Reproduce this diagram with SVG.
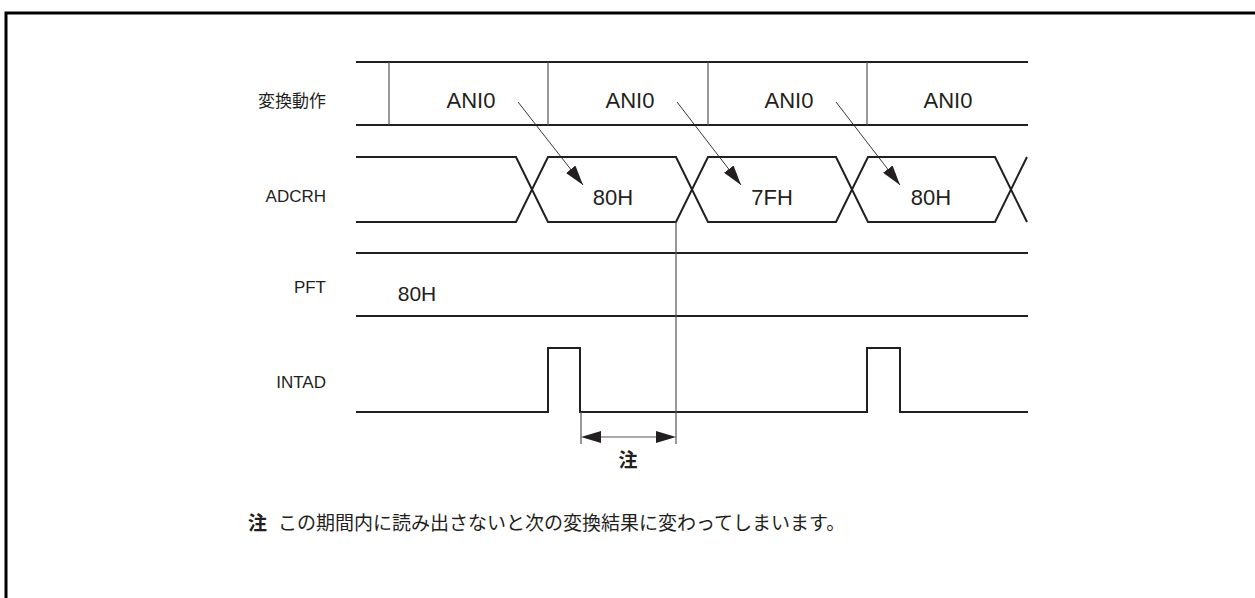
<svg xmlns="http://www.w3.org/2000/svg" width="1255" height="598" viewBox="0 0 1255 598">
<style>
.sig{fill:none;stroke:#231f20;stroke-width:2;stroke-linejoin:miter}
.thin{fill:none;stroke:#555;stroke-width:1.2}
.arr{fill:none;stroke:#231f20;stroke-width:0.9}
.lbl{font-family:"Liberation Sans","Noto Sans CJK JP",sans-serif;font-size:17px;fill:#231f20;text-anchor:end}
.val{font-family:"Liberation Sans",sans-serif;font-size:22px;fill:#231f20;text-anchor:middle}
.jp{font-family:"Noto Sans CJK JP",sans-serif;font-size:19px;fill:#231f20}
</style>
<defs>
<marker id="ah" markerWidth="20" markerHeight="12" refX="20" refY="6" orient="auto" markerUnits="userSpaceOnUse">
<path d="M0,0 L20,6 L0,12 Z" fill="#231f20"/>
</marker>
</defs>
<rect width="1255" height="598" fill="#fff"/>
<g id="frame">
<path d="M6,598 V13 H1255" fill="none" stroke="#000" stroke-width="3"/>
</g>
<g id="labels">
<text class="lbl" x="326" y="107">変換動作</text>
<text class="lbl" x="326" y="202">ADCRH</text>
<text class="lbl" x="326" y="293">PFT</text>
<text class="lbl" x="326" y="388">INTAD</text>
</g>
<g id="conv">
<path class="sig" d="M356,62 H1028 M356,125 H1028"/>
<path class="thin" d="M389,62 V125 M548,62 V125 M708,62 V125 M867,62 V125"/>
<text class="val" x="471" y="108">ANI0</text>
<text class="val" x="630" y="108">ANI0</text>
<text class="val" x="789" y="108">ANI0</text>
<text class="val" x="948" y="108">ANI0</text>
</g>
<g id="adcrh">
<path class="sig" d="M356,157 H516 L548,222 H676 L708,157 H836 L868,222 H995 L1027,157"/>
<path class="sig" d="M356,222 H516 L548,157 H676 L708,222 H836 L868,157 H995 L1027,222"/>
<text class="val" x="613" y="205">80H</text>
<text class="val" x="772" y="205">7FH</text>
<text class="val" x="931" y="205">80H</text>
</g>
<g id="pft">
<path class="sig" d="M356,253 H1028 M356,316 H1028"/>
<text class="val" x="417" y="301" style="font-size:21px">80H</text>
</g>
<g id="intad">
<path class="sig" d="M356,412 H548 V348 H580 V412 H867 V348 H900 V412 H1028"/>
</g>
<g id="connectors">
<path class="arr" d="M518,102 L583,185" marker-end="url(#ah)"/>
<path class="arr" d="M677,102 L741,185" marker-end="url(#ah)"/>
<path class="arr" d="M836,102 L900,185" marker-end="url(#ah)"/>
<path class="thin" d="M676,222 V444 M581,412 V444"/>
<path class="thin" d="M601,437 H656"/>
<path d="M581,437 L601,431 L601,443 Z M676,437 L656,431 L656,443 Z" fill="#231f20"/>
</g>
<g id="notes">
<text class="jp" x="628" y="467" text-anchor="middle" font-weight="bold">注</text>
<text class="jp" x="248" y="530"><tspan font-weight="bold">注</tspan><tspan x="278">この期間内に読み出さないと次の変換結果に変わってしまいます。</tspan></text>
</g>
</svg>
